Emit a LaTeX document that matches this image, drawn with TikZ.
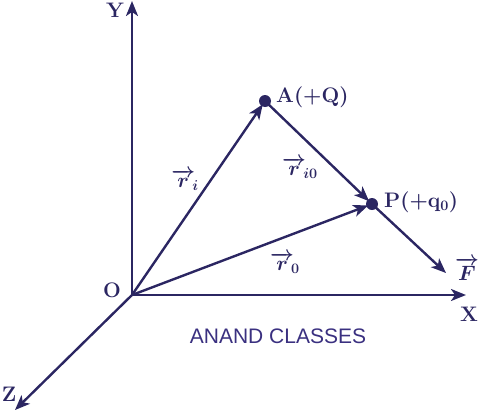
\documentclass[tikz,border=0pt]{standalone}
\usepackage{amsmath}
\usepackage{fontspec}
\usetikzlibrary{arrows.meta}
\newfontfamily\bannerfont{Liberation Sans}
\definecolor{inkblue}{RGB}{43,38,98}
\definecolor{bannerblue}{RGB}{58,48,128}
\tikzset{every picture/.style={line width=2.4pt}}

\begin{document}
\begin{tikzpicture}[x=1pt,y=1pt,yscale=-1,xscale=1,
  vecline/.style={draw=inkblue,-{Stealth[length=15pt,width=12pt,inset=4pt]}},
  axislbl/.style={inner sep=0pt,text=inkblue,font=\fontsize{21}{23}\selectfont\bfseries},
  veclbl/.style={inner sep=0pt,text=inkblue,font=\fontsize{21}{23}\selectfont\boldmath}]
\useasboundingbox (0,0) rectangle (480,410);

% points
\coordinate (O) at (132,295);
\coordinate (Ytip) at (132,1);
\coordinate (Xtip) at (466,295);
\coordinate (Ztip) at (15,410);
\coordinate (A) at (265,101);
\coordinate (P) at (372,204);
\coordinate (Ftip) at (446,273);

%Shape: axes
\draw [vecline] (O) -- (Ytip);
\draw [vecline] (O) -- (Xtip);
\draw [vecline] (O) -- (Ztip);

%Shape: position vectors
\draw [vecline,shorten >=4pt] (O) -- (A);
\draw [vecline,shorten >=4pt] (O) -- (P);
\draw [vecline,shorten >=4pt] (A) -- (P);
\draw [vecline] (P) -- (Ftip);

%Shape: charges
\fill [inkblue] (A) circle (6);
\fill [inkblue] (P) circle (6);

% Text Node
\node [axislbl] (Ylbl) at (115,10) {Y};
\node [axislbl] (Xlbl) at (469,314) {X};
\node [axislbl] (Zlbl) at (9,394) {Z};
\node [axislbl] (Olbl) at (112,290) {O};
% Text Node
\node [axislbl,anchor=base west] (Albl) at (275,102) {A(+Q)};
\node [axislbl,anchor=base west] (Plbl) at (383,207) {P(+q$_{\boldsymbol{0}}$)};
% Text Node
\node [veclbl] (rilbl) at (185,180) {$\overrightarrow{r}_{\!i}$};
\node [veclbl] (ri0lbl) at (300,168) {$\overrightarrow{r}_{\!i0}$};
\node [veclbl] (r0lbl) at (285,263) {$\overrightarrow{r}_{\!0}$};
\node [veclbl] (Flbl) at (467,269) {$\overrightarrow{F}$};
% Text Node
\node [inner sep=0pt,text=bannerblue,font=\bannerfont\fontsize{21}{23}\selectfont] (banner) at (278,336) {ANAND CLASSES};

\end{tikzpicture}
\end{document}
